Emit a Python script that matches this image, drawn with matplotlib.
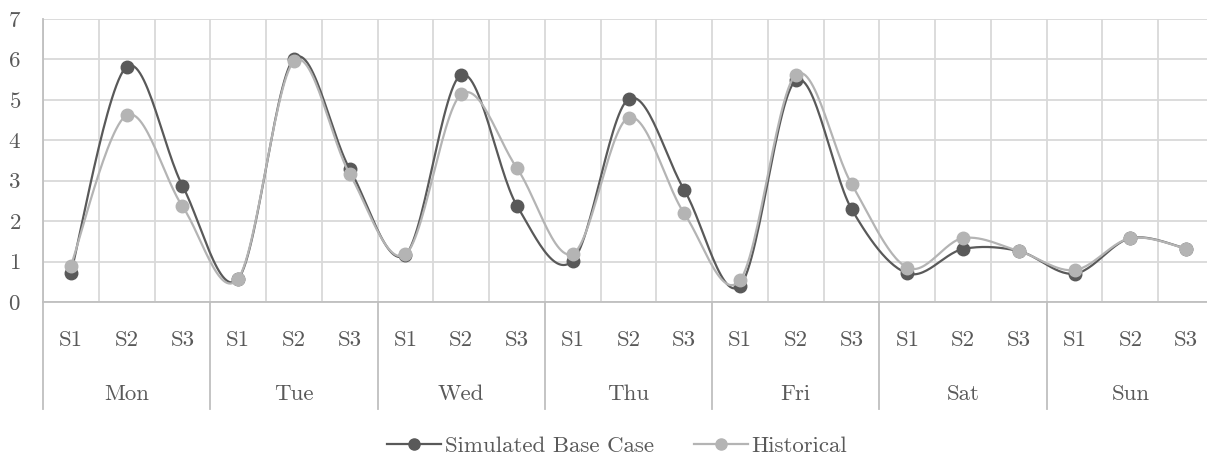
import numpy as np
import matplotlib.pyplot as plt
from matplotlib.lines import Line2D

days = ['Mon', 'Tue', 'Wed', 'Thu', 'Fri', 'Sat', 'Sun']
shifts = ['S1', 'S2', 'S3']

simulated = [0.72, 5.82, 2.88,
             0.57, 6.02, 3.29,
             1.17, 5.62, 2.38,
             1.02, 5.02, 2.77,
             0.40, 5.48, 2.30,
             0.71, 1.31, 1.26,
             0.70, 1.58, 1.32]
historical = [0.90, 4.62, 2.37,
              0.58, 5.95, 3.17,
              1.18, 5.14, 3.31,
              1.19, 4.56, 2.19,
              0.54, 5.62, 2.92,
              0.85, 1.58, 1.26,
              0.79, 1.58, 1.32]

DARK = '#595959'
LIGHT = '#b4b4b4'
GRID = '#d9d9d9'
AXIS = '#bfbfbf'
TEXT = '#595959'
FS = 16.5

plt.rcParams['font.family'] = ['cmr10', 'DejaVu Serif']
plt.rcParams['axes.formatter.use_mathtext'] = True


def smooth(y, steps=30):
    # Catmull-Rom style bezier through every point
    y = np.asarray(y, dtype=float)
    x = np.arange(len(y), dtype=float)
    pts = np.column_stack([x, y])
    ext = np.vstack([pts[0], pts, pts[-1]])
    out = []
    t = np.linspace(0, 1, steps)[:, None]
    for i in range(len(pts) - 1):
        p0, p1, p2, p3 = ext[i], ext[i + 1], ext[i + 2], ext[i + 3]
        c1 = p1 + (p2 - p0) / 6
        c2 = p2 - (p3 - p1) / 6
        seg = ((1 - t) ** 3) * p1 + 3 * ((1 - t) ** 2) * t * c1 + 3 * (1 - t) * t ** 2 * c2 + t ** 3 * p2
        out.append(seg if i == 0 else seg[1:])
    out = np.vstack(out)
    return out[:, 0], out[:, 1]


fig = plt.figure(figsize=(12.07, 4.59), dpi=100)
ax = fig.add_axes([43 / 1207, 1 - 302 / 459, 1171 / 1207, 283 / 459])

n = len(simulated)
x = np.arange(n)
for vals, col, z in [(simulated, DARK, 3), (historical, LIGHT, 4)]:
    sx, sy = smooth(vals)
    ax.plot(sx, sy, color=col, lw=1.6, zorder=z)
    ax.plot(x, vals, 'o', color=col, ms=9, zorder=z)

ax.set_xlim(-0.5, n - 0.5)
ax.set_ylim(0, 7)
ax.set_yticks(range(8))
ax.set_xticks([])
ax.set_xticks(np.arange(-0.5, n, 1), minor=True)
ax.grid(True, which='major', axis='y', color=GRID, lw=1.3, zorder=0)
ax.grid(True, which='minor', axis='x', color=GRID, lw=1.3, zorder=0)
ax.tick_params(axis='y', length=0, pad=16, labelsize=FS, labelcolor=TEXT)
ax.tick_params(axis='x', which='minor', length=0)
for s in ['top', 'right']:
    ax.spines[s].set_visible(False)
ax.spines['left'].set_color(AXIS)
ax.spines['bottom'].set_color(AXIS)
ax.spines['left'].set_linewidth(1.3)
ax.spines['bottom'].set_linewidth(1.3)

# two-level category axis below the plot
trans = ax.get_xaxis_transform()
for i in range(n):
    ax.text(i, -0.135, shifts[i % 3], transform=trans, ha='center', va='center',
            fontsize=FS, color=TEXT)
for d, day in enumerate(days):
    ax.text(d * 3 + 1, -0.325, day, transform=trans, ha='center', va='center',
            fontsize=FS, color=TEXT)
for b in range(0, n + 1, 3):
    ax.add_line(Line2D([b - 0.5, b - 0.5], [0, -0.378], transform=trans,
                       color=AXIS, lw=1.3, clip_on=False))

handles = [Line2D([], [], color=DARK, lw=1.6, marker='o', ms=8),
           Line2D([], [], color=LIGHT, lw=1.6, marker='o', ms=8)]
fig.legend(handles, ['Simulated Base Case', 'Historical'], loc='center',
           bbox_to_anchor=(617 / 1207, 1 - 446 / 459), ncol=2, frameon=False,
           fontsize=FS, labelcolor=TEXT, handlelength=2.35, handletextpad=0.15,
           columnspacing=1.75, borderpad=0)

fig.savefig('out.png', dpi=100)
